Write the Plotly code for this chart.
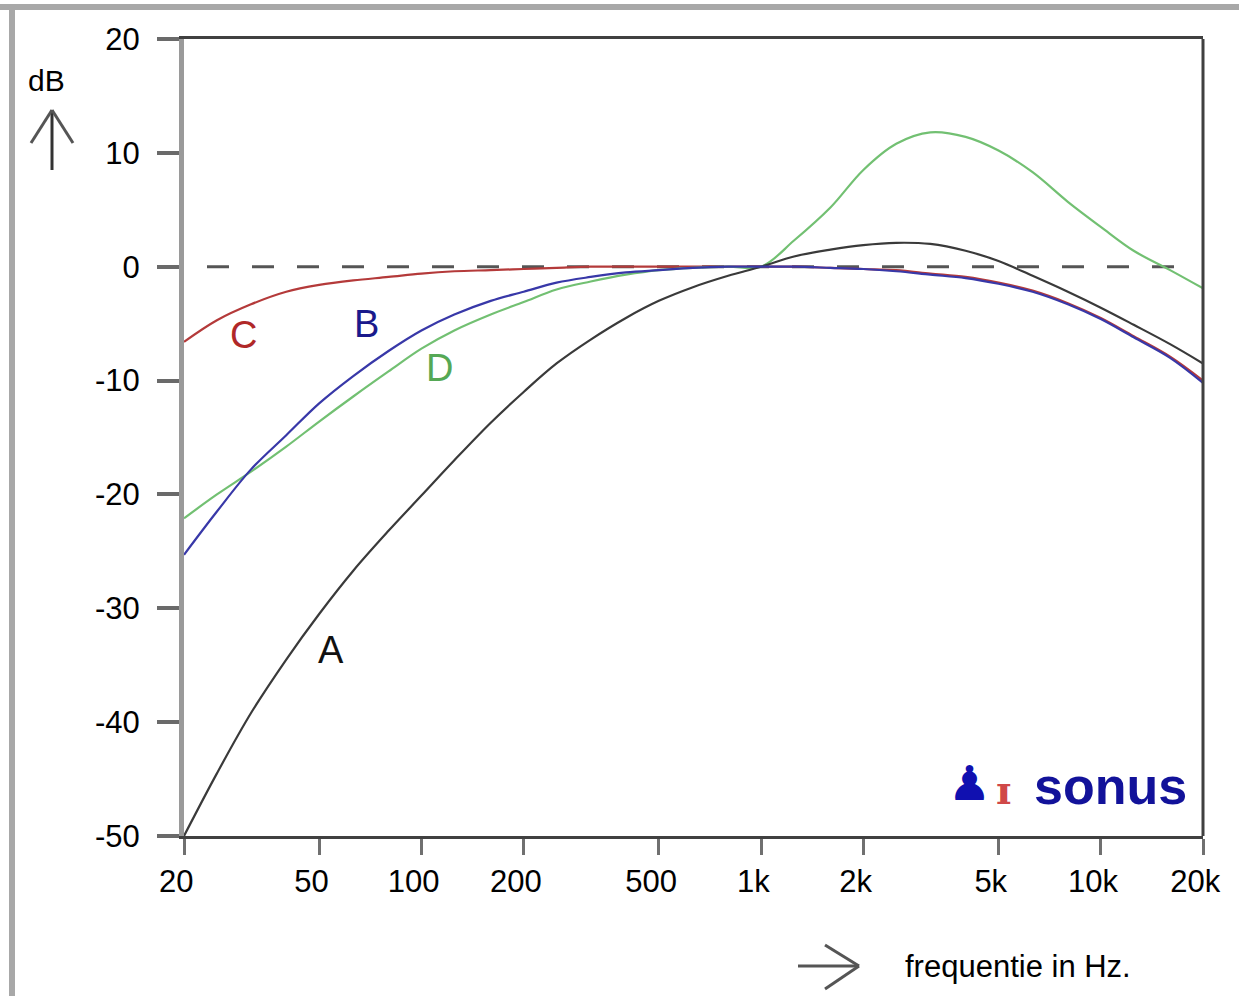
import math
import plotly.graph_objects as go

# ---- data ----
freq_hz = [20, 25, 31.5, 40, 50, 63, 80, 100, 125, 160, 200, 250, 315, 400, 500, 630,
           800, 1000, 1250, 1600, 2000, 2500, 3150, 4000, 5000, 6300, 8000, 10000,
           12500, 16000, 20000]

curve_a = [-50.0, -44.5, -39.2, -34.5, -30.5, -26.7, -23.2, -20.1, -17.0, -13.7, -11.0,
           -8.5, -6.4, -4.5, -3.0, -1.8, -0.8, 0.0, 0.9, 1.5, 1.9, 2.1, 2.0, 1.4, 0.5,
           -0.8, -2.2, -3.6, -5.1, -6.8, -8.5]
curve_b = [-25.3, -21.5, -17.8, -14.8, -12.0, -9.6, -7.4, -5.6, -4.2, -3.0, -2.2, -1.4,
           -0.9, -0.5, -0.3, -0.1, 0.0, 0.0, 0.0, -0.1, -0.2, -0.4, -0.7, -1.0, -1.5,
           -2.2, -3.3, -4.6, -6.2, -8.0, -10.2]
curve_c = [-6.6, -4.7, -3.3, -2.2, -1.6, -1.2, -0.9, -0.6, -0.4, -0.3, -0.2, -0.1, 0.0,
           0.0, 0.0, 0.0, 0.0, 0.0, 0.0, -0.1, -0.2, -0.3, -0.6, -0.9, -1.4, -2.1, -3.2,
           -4.5, -6.1, -7.9, -10.0]
curve_d = [-22.1, -20.0, -18.0, -15.8, -13.6, -11.4, -9.2, -7.2, -5.6, -4.2, -3.1, -2.0,
           -1.3, -0.7, -0.3, -0.1, 0.0, 0.0, 2.3, 5.2, 8.5, 10.8, 11.8, 11.4, 10.2, 8.3,
           5.7, 3.5, 1.4, -0.3, -1.9]

x_tick_vals = [20, 50, 100, 200, 500, 1000, 2000, 5000, 10000, 20000]
x_tick_text = ["20", "50", "100", "200", "500", "1k", "2k", "5k", "10k", "20k"]
y_tick_vals = [-50, -40, -30, -20, -10, 0, 10, 20]
y_tick_text = ["-50", "-40", "-30", "-20", "-10", "0", "10", "20"]

# curve label positions (frequency, dB)
label_names = ["A", "B", "C", "D"]
label_freq = [54, 69, 30, 113]
label_db = [-33.7, -5.0, -6.0, -8.9]

FONT = "Liberation Sans"
W, H = 1239, 996
ML, MR, MT, MB = 184, 36, 39, 160
PW, PH = W - ML - MR, H - MT - MB


def P(px, py):
    """pixel -> paper coordinates"""
    return (px - ML) / PW, (H - MB - py) / PH


fig = go.Figure()

styles = [("C", curve_c, "#b43a3a"), ("D", curve_d, "#72c072"),
          ("A", curve_a, "#3a3a3a"), ("B", curve_b, "#3838a8")]
for name, vals, col in styles:
    fig.add_trace(go.Scatter(x=freq_hz, y=vals, mode="lines", name=name,
                             line=dict(color=col, width=2.2, shape="spline", smoothing=1.0),
                             showlegend=False, hoverinfo="skip"))

label_colors = {"A": "#111111", "B": "#1a1a8c", "C": "#b02828", "D": "#55a855"}
annotations = []
for n, f, d in zip(label_names, label_freq, label_db):
    annotations.append(dict(x=math.log10(f), y=d, xref="x", yref="y", text=n,
                            showarrow=False, xanchor="center", yanchor="middle",
                            font=dict(family=FONT, size=38, color=label_colors[n])))


def text_at(px, py, txt, size, color, family=FONT, xanchor="center"):
    x, y = P(px, py)
    annotations.append(dict(x=x, y=y, xref="paper", yref="paper", text=txt,
                            showarrow=False, xanchor=xanchor, yanchor="middle",
                            font=dict(family=family, size=size, color=color)))


text_at(46, 80, "dB", 30, "black")
text_at(903, 966, "frequentie in Hz.", 31, "black", xanchor="left")
# logo
text_at(1110, 786, "<b>sonus</b>", 52, "#12129a")
text_at(969, 783, "♟", 48, "#1010b0", family="DejaVu Sans")
text_at(1003, 789, "<b>ɪ</b>", 40, "#d04848", family="DejaVu Serif")

shapes = []
# zero reference dashed line
shapes.append(dict(type="line", xref="paper", yref="y", x0=P(162, 0)[0], x1=P(1190, 0)[0],
                   y0=0, y1=0, line=dict(color="#555555", width=3, dash="22px,23px"),
                   layer="below"))
# right frame line
shapes.append(dict(type="line", xref="paper", yref="paper", x0=1, x1=1, y0=0, y1=1,
                   line=dict(color="#404040", width=3)))


def seg(p1, p2, col, w):
    a, b = P(*p1), P(*p2)
    shapes.append(dict(type="line", xref="paper", yref="paper", x0=a[0], y0=a[1],
                       x1=b[0], y1=b[1], line=dict(color=col, width=w)))


# outer border
seg((0, 7), (W, 7), "#a8a8a8", 6)
seg((12, 7), (12, H), "#a8a8a8", 6)
# up arrow
seg((52, 170), (52, 110), "#333333", 3)
seg((52, 110), (31, 143), "#555555", 3)
seg((52, 110), (73, 143), "#555555", 3)
# right arrow
seg((798, 966), (859, 966), "#555555", 3)
seg((859, 966), (825, 945), "#555555", 3)
seg((859, 966), (825, 989), "#555555", 3)

fig.update_layout(
    width=W, height=H,
    margin=dict(l=ML, r=MR, t=MT, b=MB, autoexpand=False),
    paper_bgcolor="white", plot_bgcolor="white",
    annotations=annotations, shapes=shapes,
    xaxis=dict(type="log", range=[math.log10(20), math.log10(20000)],
               tickmode="array", tickvals=x_tick_vals,
               ticktext=[t + "\u2002" for t in x_tick_text],
               showline=True, linecolor="#404040", linewidth=3, mirror=True,
               ticks="outside", ticklen=16, tickwidth=3, tickcolor="#707070",
               showgrid=False, zeroline=False, automargin=False,
               tickfont=dict(family=FONT, size=31, color="black")),
    yaxis=dict(range=[-50, 20], tickmode="array", tickvals=y_tick_vals,
               ticktext=y_tick_text,
               showline=True, linecolor="#9a9a9a", linewidth=5,
               ticks="outside", ticklen=22, tickwidth=4, tickcolor="#6a6a6a",
               ticklabelstandoff=11, automargin=False,
               showgrid=False, zeroline=False,
               tickfont=dict(family=FONT, size=31, color="black")),
)

fig.write_html("out.html", config={"displayModeBar": False},
               post_script="document.body.style.margin='0';document.body.style.overflow='hidden';")
